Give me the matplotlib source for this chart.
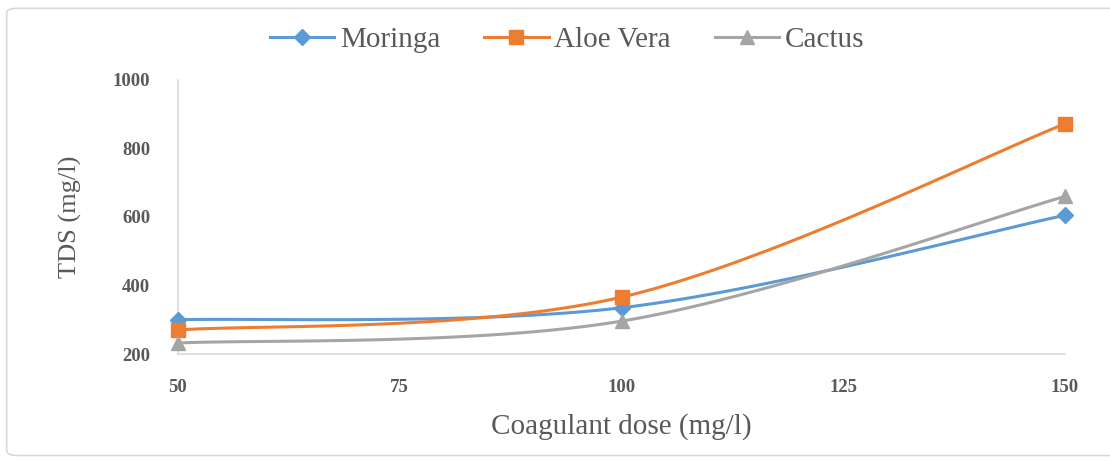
import numpy as np
import matplotlib
matplotlib.use("Agg")
import matplotlib.pyplot as plt
from matplotlib.patches import FancyBboxPatch

plt.rcParams['font.family'] = ['Liberation Serif', 'DejaVu Serif']

dose = [50, 100, 150]
moringa = [300, 335, 605]
aloe_vera = [270, 366, 872]
cactus = [232, 296, 660]

series = [
    ("Moringa", moringa, "#5B9BD5", "D", 8),
    ("Aloe Vera", aloe_vera, "#ED7D31", "s", 10),
    ("Cactus", cactus, "#A5A5A5", "^", 10),
]

XLIM = (50, 150)
YLIM = (200, 1000)


def smooth(xs, ys, w, h, n=60):
    # excel-like smoothed line: cardinal spline done in pixel space
    px = (np.asarray(xs, float) - XLIM[0]) / (XLIM[1] - XLIM[0]) * w
    py = (np.asarray(ys, float) - YLIM[0]) / (YLIM[1] - YLIM[0]) * h
    pts = np.column_stack([px, py])
    ext = np.vstack([pts[0], pts, pts[-1]])
    out = []
    for i in range(1, len(ext) - 2):
        p0, p1, p2, p3 = ext[i - 1], ext[i], ext[i + 1], ext[i + 2]
        c1 = p1 + (p2 - p0) / 6
        c2 = p2 - (p3 - p1) / 6
        t = np.linspace(0, 1, n)[:, None]
        seg = ((1 - t) ** 3) * p1 + 3 * ((1 - t) ** 2) * t * c1 + 3 * (1 - t) * t ** 2 * c2 + t ** 3 * p2
        out.append(seg)
    out = np.vstack(out)
    sx = out[:, 0] / w * (XLIM[1] - XLIM[0]) + XLIM[0]
    sy = out[:, 1] / h * (YLIM[1] - YLIM[0]) + YLIM[0]
    return sx, sy


fig = plt.figure(figsize=(11.1, 4.61), dpi=100)
border = FancyBboxPatch((0.006, 0.012), 1.2, 0.97, boxstyle="round,pad=0,rounding_size=0.01",
                        transform=fig.transFigure, fill=False, edgecolor="#D9D9D9", linewidth=1.2)
fig.patches.append(border)

ax = fig.add_axes([0.1604, 0.2321, 0.7991, 0.5944])
w, h = 887, 274

handles = []
for name, vals, col, mk, ms in series:
    sx, sy = smooth(dose, vals, w, h)
    ax.plot(sx, sy, color=col, lw=2.2, clip_on=False)
    ax.plot(dose, vals, linestyle="none", marker=mk, markersize=ms, color=col, clip_on=False, zorder=3)
    hl, = ax.plot([], [], color=col, lw=2.2, marker=mk, markersize=ms, label=name)
    handles.append(hl)

ax.set_xlim(*XLIM)
ax.set_ylim(*YLIM)
ax.set_xticks([50, 75, 100, 125, 150])
ax.set_yticks([200, 400, 600, 800, 1000])
for s in ["top", "right"]:
    ax.spines[s].set_visible(False)
for s in ["left", "bottom"]:
    ax.spines[s].set_color("#D9D9D9")
    ax.spines[s].set_linewidth(1.2)
ax.tick_params(length=0, labelsize=13.5, labelcolor="#595959")
for lab in ax.get_xticklabels() + ax.get_yticklabels():
    lab.set_fontweight("bold")
ax.tick_params(axis="y", pad=20)
ax.tick_params(axis="x", pad=18)

ax.set_xlabel("Coagulant dose (mg/l)", fontsize=21, color="#595959", labelpad=12)
ax.set_ylabel("TDS (mg/l)", fontsize=19, color="#595959", labelpad=22)

fig.legend(handles=handles, loc="center", bbox_to_anchor=(0.511, 0.913), ncol=3, frameon=False,
           fontsize=21, labelcolor="#595959", handlelength=2.2, handletextpad=0.2, columnspacing=1.5)

fig.savefig("out.png", dpi=100)
